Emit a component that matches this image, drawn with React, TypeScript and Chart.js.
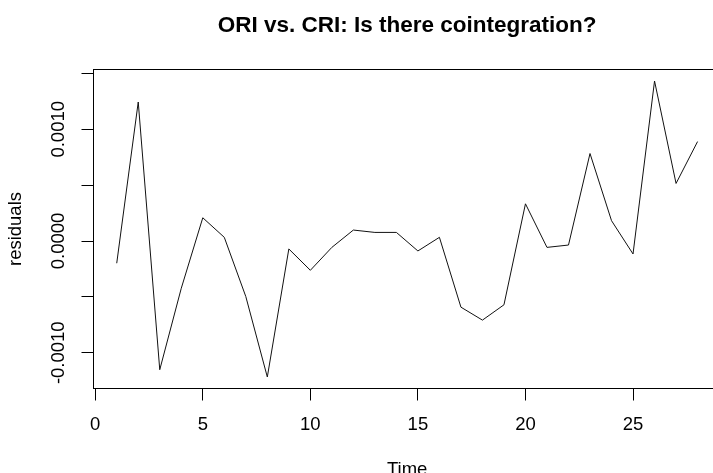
import React, { useEffect, useRef } from "react";
import { Chart, registerables } from "chart.js";

Chart.register(...registerables);

const times = [1, 2, 3, 4, 5, 6, 7, 8, 9, 10, 11, 12, 13, 14, 15, 16, 17, 18, 19, 20, 21, 22, 23, 24, 25, 26, 27, 28];
const residuals = [
  -0.000199, 0.001244, -0.001152, -0.000423, 0.000208, 0.000033, -0.000497, -0.001217,
  -0.000071, -0.000262, -0.000057, 0.000098, 0.000077, 0.000077, -0.000089, 0.000033,
  -0.000592, -0.000708, -0.000571, 0.000333, -0.000057, -0.000036, 0.000783, 0.000182,
  -0.000116, 0.001432, 0.000515, 0.00089,
];
const xTicks = [0, 5, 10, 15, 20, 25];
const yTicks = [-0.001, -0.0005, 0, 0.0005, 0.001, 0.0015];
const yLabelled = [-0.001, 0, 0.001];
const titleText = "ORI vs. CRI: Is there cointegration?";
const xTitle = "Time";
const yTitle = "residuals";

const FONT = "'Liberation Sans', Arial, Helvetica, sans-serif";

const boxPlugin = {
  id: "boxPlugin",
  afterDraw(chart: any) {
    const { ctx, chartArea } = chart;
    ctx.save();
    ctx.strokeStyle = "#000";
    ctx.lineWidth = 1;
    ctx.strokeRect(chartArea.left, chartArea.top, chartArea.right - chartArea.left, chartArea.bottom - chartArea.top);
    // main title centred over the plot region
    ctx.fillStyle = "#000";
    ctx.font = `bold 22.5px ${FONT}`;
    ctx.textAlign = "center";
    ctx.textBaseline = "middle";
    ctx.fillText(titleText, (chartArea.left + chartArea.right) / 2, 26);
    ctx.restore();
  },
};

export default function App() {
  const ref = useRef<HTMLCanvasElement>(null);
  useEffect(() => {
    if (!ref.current) return;
    const chart = new Chart(ref.current, {
      type: "line",
      data: {
        datasets: [
          {
            data: times.map((t, i) => ({ x: t, y: residuals[i] })),
            borderColor: "#111",
            borderWidth: 1,
            pointRadius: 0,
            tension: 0,
            fill: false,
          },
        ],
      },
      options: {
        animation: false,
        responsive: false,
        devicePixelRatio: 1,
        layout: { padding: { left: 0, top: 69.5, right: 96.2, bottom: 0 } },
        plugins: {
          legend: { display: false },
          tooltip: { enabled: false },
          title: { display: false },
        },
        scales: {
          x: {
            type: "linear",
            min: -0.08,
            max: 29.08,
            afterBuildTicks: (scale: any) => {
              scale.ticks = xTicks.map((v) => ({ value: v }));
            },
            afterFit: (scale: any) => {
              scale.height = 93.5;
            },
            ticks: {
              autoSkip: false,
              color: "#000",
              font: { family: FONT, size: 18.5 },
              padding: 13,
              maxRotation: 0,
              minRotation: 0,
              callback: (v: any) => String(v),
            },
            grid: { drawOnChartArea: false, drawTicks: true, tickLength: 12, color: "#000", lineWidth: 1 },
            border: { display: true, color: "#000", width: 1 },
            title: {
              display: true,
              text: xTitle,
              color: "#000",
              font: { family: FONT, size: 18.5 },
              padding: { top: 0, bottom: 0.5 },
            },
          },
          y: {
            type: "linear",
            min: -0.00132,
            max: 0.001535,
            afterBuildTicks: (scale: any) => {
              scale.ticks = yTicks.map((v) => ({ value: v }));
            },
            afterFit: (scale: any) => {
              scale.width = 93.5;
            },
            ticks: {
              autoSkip: false,
              color: "#000",
              font: { family: FONT, size: 18.5 },
              minRotation: 90,
              maxRotation: 90,
              crossAlign: "center",
              padding: -8.9,
              callback: (v: any) => {
                const n = Number(v);
                return yLabelled.some((l) => Math.abs(l - n) < 1e-9) ? n.toFixed(4) : "";
              },
            },
            grid: { drawOnChartArea: false, drawTicks: true, tickLength: 12, color: "#000", lineWidth: 1 },
            border: { display: true, color: "#000", width: 1 },
            title: {
              display: true,
              text: yTitle,
              color: "#000",
              font: { family: FONT, size: 18.5 },
              padding: { top: 4.9, bottom: 0 },
            },
          },
        },
      } as any,
      plugins: [boxPlugin],
    });
    return () => chart.destroy();
  }, []);

  return (
    <div
      style={{
        position: "fixed",
        left: 0,
        top: 0,
        width: 713,
        height: 473,
        overflow: "hidden",
        background: "#fff",
      }}
    >
      <canvas ref={ref} width={817} height={482} style={{ width: 817, height: 482, display: "block" }} />
    </div>
  );
}
